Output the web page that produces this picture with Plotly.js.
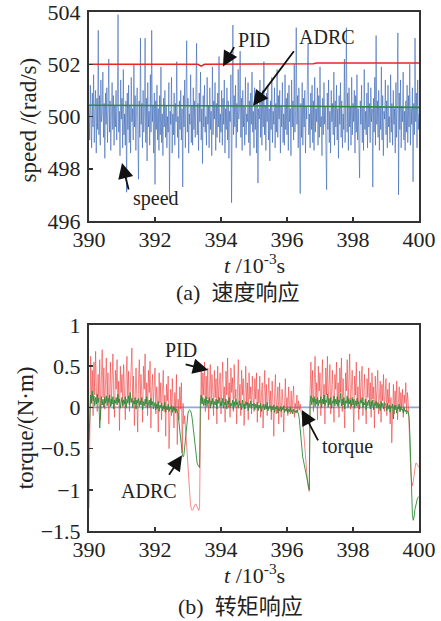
<!DOCTYPE html>
<html><head><meta charset="utf-8">
<script src="https://cdn.plot.ly/plotly-3.0.1.min.js"></script>
<style>html,body{margin:0;padding:0;background:#fff}#chart{width:441px;height:621px}</style>
</head><body><div id="chart"></div>
<script>
// time axis: samples start at 390 (10^-3 s)
const t0 = 390;
const speedStep = 0.02;
const torqueStep = 0.025;

// (a) measured speed, rad/s
const speed = [
500.4,499.1,501.2,500.3,498.8,500.9,499.6,501.6,499.0,500.2,501.0,498.6,500.7,499.5,503.3,499.3,500.8,498.9,501.4,499.8,
500.1,501.7,499.2,500.5,498.4,500.9,499.7,501.1,499.0,500.3,502.2,499.4,500.6,498.7,500.0,501.3,499.5,500.8,498.9,500.4,
499.6,501.0,499.1,500.5,503.9,499.4,500.2,498.5,501.4,499.9,500.7,498.8,501.8,499.3,500.1,498.9,500.6,497.1,500.9,499.5,
501.2,499.0,500.4,498.6,501.5,499.8,500.3,499.1,502.0,499.6,500.8,498.7,500.2,501.1,499.3,497.6,500.6,499.2,503.0,499.7,
500.5,498.8,501.0,499.4,500.1,503.0,499.0,500.7,498.3,501.3,499.6,500.2,498.9,501.6,499.4,503.3,499.8,500.4,498.6,500.9,
497.4,500.6,499.5,501.2,499.1,500.3,498.7,500.8,499.3,501.9,499.0,500.1,498.5,500.7,499.6,501.0,499.2,500.4,498.8,500.0,
499.4,501.3,496.9,500.2,499.7,501.5,498.6,500.1,499.3,500.9,498.9,500.5,499.8,502.1,499.2,500.0,498.4,500.6,499.5,501.0,
499.1,500.3,497.3,500.8,499.6,501.4,498.8,500.2,502.9,499.4,500.7,498.6,500.1,499.7,501.6,499.0,500.4,498.9,501.1,499.5,
500.6,499.2,501.0,502.8,499.3,500.5,498.7,500.9,499.8,501.7,499.1,500.3,498.2,500.8,499.6,501.2,499.4,500.0,498.9,501.5,
499.7,500.4,498.8,501.1,499.5,500.2,498.5,501.9,499.3,500.6,499.9,501.3,498.7,500.5,499.2,500.9,499.6,502.3,499.0,500.1,
499.4,501.0,498.9,500.7,499.7,501.4,498.6,500.3,499.5,501.1,499.1,500.6,498.4,500.2,499.8,501.6,496.7,500.4,503.5,499.3,
500.8,499.6,501.2,498.8,500.5,499.4,501.8,499.9,500.3,502.5,499.2,500.7,498.7,501.0,499.6,500.4,498.9,501.5,499.3,500.1,
499.8,501.3,499.0,500.6,498.5,500.9,499.7,501.7,499.4,500.2,498.8,501.1,499.5,500.5,498.6,500.8,497.45,500.3,499.9,501.4,
499.2,500.7,498.9,501.0,499.6,502.1,499.3,500.4,498.7,500.9,499.8,501.2,499.1,500.3,498.3,500.6,499.5,501.5,499.0,500.2,
499.7,501.1,498.8,500.5,499.4,501.8,499.2,500.8,499.9,501.0,498.6,500.4,499.6,501.3,499.0,500.1,498.9,501.6,499.5,500.7,
499.3,500.9,498.7,501.2,499.8,500.3,498.5,501.4,499.6,500.6,499.1,502.0,499.4,500.2,503.4,499.7,500.8,498.8,501.1,499.5,
497.05,500.5,499.2,501.3,498.9,500.7,499.6,501.0,498.6,500.4,499.9,501.6,502.8,499.3,500.1,498.8,500.9,499.5,501.2,499.0,
500.6,498.7,501.5,499.4,500.3,499.8,501.1,498.9,500.8,499.2,501.9,499.6,500.0,498.5,500.7,499.3,501.3,499.7,500.4,498.8,
497.2,500.9,499.5,501.4,499.0,500.2,498.6,501.0,499.8,500.5,499.3,501.7,498.9,500.6,499.6,501.2,499.1,500.3,498.4,500.8,
499.7,501.3,499.2,500.6,498.8,500.1,499.5,502.2,499.0,500.7,503.4,499.4,500.9,498.7,501.1,499.6,500.4,498.9,501.5,499.3,
500.5,499.8,501.0,498.6,500.8,499.4,501.6,499.1,500.3,498.9,497.65,500.6,499.7,501.2,499.0,500.4,498.7,501.8,499.5,500.2,
499.3,500.9,498.8,501.3,499.6,500.5,499.0,501.1,499.8,500.3,497.3,500.7,499.4,501.5,498.9,503.1,499.7,500.6,499.2,501.0,
498.7,500.4,499.5,501.9,499.1,500.8,498.5,500.2,499.9,501.4,499.3,500.6,498.8,501.2,499.6,500.0,499.0,501.6,499.4,500.5,
498.9,501.0,499.7,500.3,498.6,501.3,499.2,500.7,503.2,497.0,500.9,499.5,501.4,498.8,500.4,499.8,501.7,499.1,500.2,498.7,
500.6,499.4,501.2,499.0,500.8,499.6,502.0,498.9,500.3,499.7,501.1,497.5,500.5,499.3,503.0,499.8,500.9,498.8,501.4,499.5,
500.1];

// (a) PID and ADRC speed responses
const speedPIDTime = [390, 392.8, 393.3, 393.4, 393.5, 396.8, 396.9, 400];
const speedPID     = [502.0, 502.02, 502.0, 501.93, 502.0, 502.02, 502.05, 502.05];
const speedADRCTime = [390, 393, 396, 400];
const speedADRC     = [500.43, 500.42, 500.40, 500.35];

// (b) torque, N·m
const torquePID = [
-1.22,0.30,0.62,0.05,0.45,-0.10,0.55,0.15,0.68,0.20,-0.05,0.40,0.10,0.58,-0.15,0.35,0.70,0.12,0.48,-0.02,
0.30,0.60,0.08,0.42,-0.20,0.25,0.55,0.02,0.38,0.65,0.15,-0.12,0.45,0.22,0.58,0.05,0.32,-0.28,0.50,0.18,
0.40,0.00,0.52,0.20,-0.15,0.35,0.62,0.10,0.44,-0.05,0.28,0.55,0.72,0.06,0.38,-0.22,0.25,0.48,0.12,-0.30,
0.33,0.58,0.04,0.40,0.15,-0.18,0.50,0.22,0.65,0.00,0.30,-0.10,0.45,0.18,0.56,-0.25,0.20,0.40,0.02,0.35,
0.48,-0.08,0.25,0.10,-0.30,0.42,0.05,0.30,-0.15,0.20,0.45,-0.05,0.15,-0.35,0.28,0.08,0.38,-0.50,0.12,0.22,
-0.10,0.35,0.02,-0.25,0.18,-0.05,0.40,-0.45,0.10,-0.15,0.25,-0.02,0.30,-0.55,0.05,-0.20,-0.10,-0.25,-0.40,-0.60,
-0.80,-0.95,-1.08,-1.18,-1.23,-1.25,-1.24,-1.21,-1.18,-1.17,-1.18,-1.21,-1.24,-1.25,-1.22,0.20,0.50,0.05,0.42,0.15,
0.55,-0.05,0.38,0.10,0.48,-0.15,0.30,0.52,0.02,0.40,0.20,-0.10,0.45,0.12,0.35,-0.20,0.50,0.08,0.28,0.42,
-0.08,0.32,0.55,0.05,0.25,-0.18,0.44,0.15,0.60,0.00,0.30,-0.12,0.48,0.18,0.36,-0.05,0.52,0.10,0.22,-0.20,
0.40,0.58,0.06,0.28,-0.10,0.45,0.15,0.35,-0.22,0.20,0.50,0.02,0.30,-0.15,0.42,0.10,0.25,-0.08,0.38,0.12,
-0.05,0.35,0.10,0.42,-0.18,0.22,0.05,0.38,-0.12,0.15,0.30,-0.25,0.20,0.45,0.00,0.28,-0.10,0.12,0.36,-0.02,
0.20,-0.15,0.32,0.05,-0.35,0.18,0.40,-0.08,0.10,0.25,-0.20,0.30,0.02,-0.12,0.22,0.08,-0.30,0.15,0.35,-0.05,
0.12,-0.10,0.25,0.02,-0.08,0.20,-0.04,0.10,0.26,-0.12,0.05,-0.02,0.15,-0.06,0.08,-0.03,0.04,-0.05,-0.08,-0.15,
-0.30,-0.45,-0.60,-0.72,-0.82,-0.92,-0.98,-1.02,0.20,0.55,0.10,0.45,-0.05,0.38,0.62,0.08,0.30,-0.15,0.50,0.20,
0.42,-0.10,0.35,0.58,0.05,0.28,-0.20,0.48,0.15,0.62,0.00,0.32,0.52,-0.08,0.25,0.45,0.10,-0.18,0.40,0.22,
0.55,0.02,0.30,-0.12,0.48,0.18,0.60,-0.05,0.35,0.12,-0.25,0.42,0.20,0.58,0.05,0.32,0.65,-0.02,0.28,0.45,
0.10,-0.30,0.38,0.15,0.55,0.00,0.25,-0.15,0.44,0.08,0.30,0.50,-0.10,0.22,0.40,0.05,-0.20,0.35,0.12,0.48,
0.02,0.30,-0.12,0.42,0.10,0.25,-0.25,0.38,0.05,0.20,0.45,-0.08,0.15,0.32,-0.18,0.28,0.08,0.40,-0.05,0.18,
0.35,-0.10,0.22,0.05,0.30,-0.20,0.12,-0.43,0.15,0.28,-0.08,0.20,0.02,0.32,-0.15,0.10,0.25,-0.05,0.18,0.00,
0.22,-0.12,0.15,0.05,0.30,-0.05,0.18,0.05,-0.30,-0.55,-0.78,-0.90,-0.95,-0.90,-0.80,-0.72,-0.68,-0.68,-0.70,-0.72,
-0.73];

const torqueADRC = [
-0.40,-0.10,0.15,0.05,0.20,0.08,0.14,0.02,0.12,0.04,0.16,0.06,0.11,-0.25,0.05,0.13,0.03,0.10,0.00,0.12,
0.05,0.14,0.02,0.11,0.06,0.15,0.01,0.10,0.04,0.13,-0.02,0.09,0.05,0.12,0.03,0.16,0.06,0.10,-0.01,0.08,
0.12,0.02,0.09,0.04,0.13,-0.01,0.10,0.05,0.14,0.03,0.18,0.06,0.11,0.00,0.08,0.04,0.12,-0.02,0.09,0.05,
0.11,0.01,0.08,0.03,0.12,-0.03,0.07,0.02,0.10,0.04,0.13,-0.01,0.06,0.09,0.00,0.11,0.03,0.07,-0.02,0.05,
0.06,-0.03,0.04,-0.01,0.07,-0.05,0.03,0.00,0.05,-0.04,0.02,-0.02,0.06,-0.06,0.01,-0.03,0.04,-0.05,0.00,-0.02,
0.02,-0.06,0.01,-0.04,0.00,-0.07,-0.02,-0.05,-0.08,-0.18,-0.30,-0.42,-0.50,-0.56,-0.60,-0.58,-0.48,-0.35,-0.22,-0.12,
-0.07,-0.04,-0.03,-0.04,-0.07,-0.13,-0.22,-0.33,-0.44,-0.54,-0.62,-0.67,-0.70,-0.72,-0.73,0.08,0.15,0.04,0.12,0.02,
0.10,0.03,0.13,0.01,0.09,0.05,0.12,-0.01,0.08,0.04,0.11,0.00,0.07,0.03,0.10,-0.02,0.09,0.05,0.12,0.01,
0.07,0.02,0.11,-0.01,0.06,0.03,0.10,-0.02,0.08,0.04,0.12,0.00,0.05,0.02,0.09,-0.03,0.07,0.01,0.10,0.03,
0.06,-0.01,0.08,0.02,0.05,-0.03,0.09,0.01,0.04,-0.02,0.07,0.03,0.06,-0.04,0.05,0.00,0.08,-0.01,0.04,0.02,
0.05,-0.03,0.04,0.00,0.06,-0.04,0.03,-0.01,0.05,-0.05,0.02,0.01,0.04,-0.03,0.03,-0.02,0.06,-0.04,0.01,0.00,
0.02,-0.05,0.01,-0.03,0.03,-0.06,0.00,-0.02,0.02,-0.07,-0.01,-0.04,0.01,-0.05,0.00,-0.03,0.02,-0.06,-0.02,-0.04,
-0.01,-0.07,-0.02,-0.05,0.00,-0.06,-0.03,-0.08,-0.02,-0.05,-0.04,-0.07,-0.03,-0.06,-0.08,-0.15,-0.27,-0.40,-0.52,-0.60,
-0.65,-0.70,-0.74,-0.78,-0.82,-0.88,-0.94,-1.00,0.05,0.14,0.03,0.11,0.06,0.13,0.01,0.10,0.04,0.12,0.02,0.09,
0.05,0.13,0.00,0.10,0.04,0.15,0.02,0.09,0.06,0.16,0.01,0.11,0.03,0.12,-0.01,0.08,0.05,0.14,0.02,0.10,
0.04,0.13,0.01,0.09,0.06,0.17,0.02,0.10,0.03,0.12,-0.02,0.08,0.05,0.14,0.00,0.11,0.04,0.09,0.01,0.12,
0.03,0.10,-0.01,0.08,0.02,0.11,0.04,0.07,-0.02,0.09,0.05,0.12,0.00,0.06,0.03,0.10,-0.03,0.07,0.02,0.09,
0.04,-0.02,0.07,0.01,0.09,-0.03,0.05,0.02,0.08,-0.01,0.06,0.00,0.04,-0.04,0.07,0.01,0.05,-0.02,0.06,0.03,
0.02,-0.04,0.05,-0.02,0.03,-0.06,0.01,0.00,0.04,-0.14,0.02,-0.03,0.03,-0.07,0.00,-0.02,0.04,-0.05,0.01,-0.03,
-0.02,-0.07,0.00,-0.05,-0.03,-0.08,-0.04,-0.06,-0.12,-0.35,-0.70,-1.05,-1.30,-1.37,-1.33,-1.24,-1.18,-1.14,-1.11,-1.09,
-1.08];

const torqueRefTime = [390, 400];
const torqueRef = [0, 0];

const timeTicks = [390, 392, 394, 396, 398, 400];
const speedTicks = [496, 498, 500, 502, 504];
const torqueTicks = [-1.5, -1, -0.5, 0, 0.5, 1];

const serif = '"Liberation Serif", "Times New Roman", Times, serif';
const cjk = '"Liberation Serif", "Noto Sans CJK SC", serif';

const traces = [
  {type:'scatter', mode:'lines', x0:t0, dx:speedStep, y:speed, xaxis:'x', yaxis:'y',
   line:{color:'#2a59ae', width:0.55}, name:'speed'},
  {type:'scatter', mode:'lines', x:speedPIDTime, y:speedPID, xaxis:'x', yaxis:'y',
   line:{color:'#e8262a', width:1.6}, name:'PID'},
  {type:'scatter', mode:'lines', x:speedADRCTime, y:speedADRC, xaxis:'x', yaxis:'y',
   line:{color:'#2e8b3a', width:1.6}, name:'ADRC'},
  {type:'scatter', mode:'lines', x:torqueRefTime, y:torqueRef, xaxis:'x2', yaxis:'y2',
   line:{color:'#8ea8d8', width:1.6}, name:'torque'},
  {type:'scatter', mode:'lines', x0:t0, dx:torqueStep, y:torquePID, xaxis:'x2', yaxis:'y2',
   line:{color:'#ee3a3a', width:0.6}, name:'PID'},
  {type:'scatter', mode:'lines', x0:t0, dx:torqueStep, y:torqueADRC, xaxis:'x2', yaxis:'y2',
   line:{color:'#2a8a35', width:0.9}, name:'ADRC'}
];

const axisBase = {
  showgrid:false, zeroline:false, showline:true, linecolor:'#333', linewidth:2, mirror:true,
  ticks:'inside', ticklen:4, tickwidth:1.5, tickcolor:'#333', ticklabeloverflow:'allow',
  tickfont:{family:serif, size:22, color:'#222'}
};

function arrow(xr, yr, x, y, ax, ay) {
  return {xref:xr, yref:yr, x:x, y:y, ax:ax, ay:ay, text:'', showarrow:true,
          arrowhead:2, arrowsize:1.7, arrowwidth:1.8, arrowcolor:'#111', standoff:0};
}
function label(xr, yr, x, y, text, size) {
  return {xref:xr, yref:yr, x:x, y:y, text:text, showarrow:false,
          xanchor:'center', yanchor:'middle', font:{family:serif, size:size||20, color:'#222'}};
}

const annotations = [
  // (a)
  label('x','y',395.0,502.94,'PID'),
  label('x','y',397.2,503.06,'ADRC'),
  label('x','y',392.03,496.85,'speed'),
  arrow('x','y',394.06,501.91,12,-21),
  arrow('x','y',394.97,500.41,42,-56),
  arrow('x','y',391.0,498.22,7,28),
  // (b)
  label('x2','y2',392.79,0.70,'PID'),
  label('x2','y2',397.82,-0.47,'torque'),
  label('x2','y2',391.83,-1.01,'ADRC'),
  arrow('x2','y2',393.61,0.454,-24,-6),
  arrow('x2','y2',396.45,-0.03,17,32),
  arrow('x2','y2',392.82,-0.58,-14,21),
  // axis titles & captions
  {xref:'paper', yref:'paper', x:-0.185, y:0.793, text:'speed /(rad/s)', textangle:-90, showarrow:false,
   xanchor:'center', yanchor:'middle', font:{family:serif, size:23, color:'#222'}},
  {xref:'paper', yref:'paper', x:-0.194, y:0.2, text:'torque/(N·m)', textangle:-90, showarrow:false,
   xanchor:'center', yanchor:'middle', font:{family:serif, size:23, color:'#222'}},
  {xref:'paper', yref:'paper', x:0.5, y:0.515, text:'<i>t</i> /10<sup>-3</sup>s', showarrow:false,
   xanchor:'center', yanchor:'middle', font:{family:serif, size:22, color:'#222'}},
  {xref:'paper', yref:'paper', x:0.5, y:-0.0823, text:'<i>t</i> /10<sup>-3</sup>s', showarrow:false,
   xanchor:'center', yanchor:'middle', font:{family:serif, size:22, color:'#222'}},
  {xref:'paper', yref:'paper', x:0.45, y:0.4595, text:'(a)\u00a0\u00a0速度响应', showarrow:false,
   xanchor:'center', yanchor:'middle', font:{family:cjk, size:22, color:'#222'}},
  {xref:'paper', yref:'paper', x:0.4606, y:-0.1459, text:'(b)\u00a0\u00a0转矩响应', showarrow:false,
   xanchor:'center', yanchor:'middle', font:{family:cjk, size:22, color:'#222'}}
];

const layout = {
  width:441, height:621,
  margin:{l:89, r:22, t:12, b:90},
  paper_bgcolor:'#ffffff', plot_bgcolor:'#ffffff',
  showlegend:false,
  font:{family:serif, size:22, color:'#222'},
  xaxis: Object.assign({}, axisBase, {domain:[0,1], anchor:'y', range:[390,400], tickvals:timeTicks, ticklabelstandoff:-2}),
  yaxis: Object.assign({}, axisBase, {domain:[0.5973,1], anchor:'x', range:[496,504], tickvals:speedTicks, ticklabelstandoff:2}),
  xaxis2: Object.assign({}, axisBase, {domain:[0,1], anchor:'y2', range:[390,400], tickvals:timeTicks, ticklabelstandoff:-2}),
  yaxis2: Object.assign({}, axisBase, {domain:[0,0.3969], anchor:'x2', range:[-1.5,1], tickvals:torqueTicks, ticklabelstandoff:2}),
  annotations: annotations
};

Plotly.newPlot('chart', traces, layout, {displayModeBar:false, staticPlot:true});
</script>
</body></html>
